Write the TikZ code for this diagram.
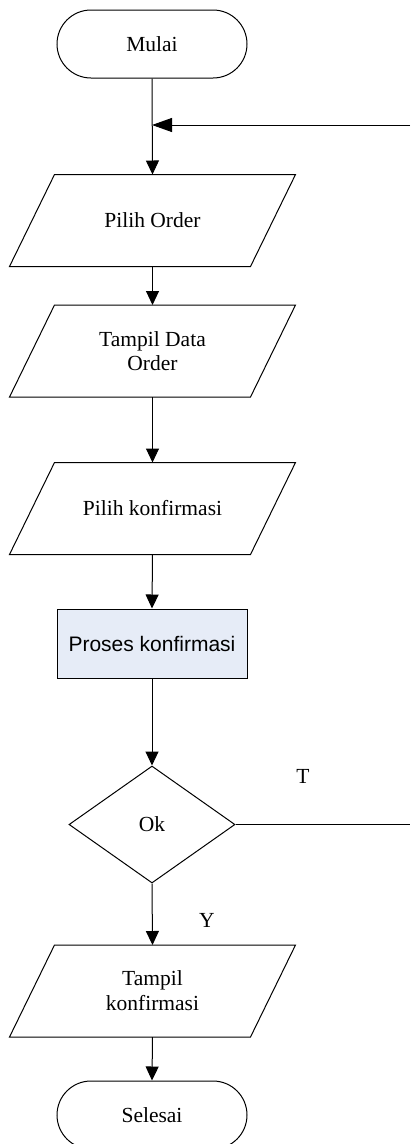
\documentclass[tikz,border=0pt]{standalone}
\usepackage{fontspec}
\setmainfont{Liberation Serif}
\newfontfamily\arialfont{Liberation Sans}
\usetikzlibrary{shapes.geometric,arrows.meta}
\definecolor{procfill}{RGB}{230,236,247}
\newcommand\myioshape[1]{%
  \draw ([xshift=-22.5pt]#1.south west) -- ([xshift=-22.5pt]#1.south east)
     -- ([xshift=22.5pt]#1.north east) -- ([xshift=22.5pt]#1.north west) -- cycle;}
\begin{document}
\begin{tikzpicture}[x=1pt,y=-1pt,
  line width=1pt,
  every node/.style={font=\fontsize{21.5}{23.5}\selectfont, align=center, inner sep=0pt},
  term/.style={draw, rectangle, rounded corners=34pt, minimum width=190pt, minimum height=68pt},
  io/.style={rectangle, minimum width=240pt, minimum height=91pt},
  proc/.style={draw, rectangle, fill=procfill, minimum width=190pt, minimum height=69pt,
    font=\arialfont\fontsize{21}{24}\selectfont},
  dec/.style={draw, diamond, minimum width=166pt, minimum height=117pt},
  arr/.style={-{Triangle[length=14pt,width=13pt]}},
  arrbig/.style={-{Triangle[length=20pt,width=14pt]}}
]
\useasboundingbox (0,0) rectangle (410,1144);

\node[term] (mulai) at (152,44) {Mulai};
\node[io] (po) at (152.5,220.5) {Pilih Order};
\node[io] (tdo) at (152.5,351) {Tampil Data\\Order};
\node[io] (pk) at (152.5,508.5) {Pilih konfirmasi};
\node[proc] (proses) at (152,643.5) {Proses konfirmasi};
\node[dec] (ok) at (152,824.5) {Ok};
\node[io,font=\fontsize{21.5}{25}\selectfont] (tk) at (152.5,991) {Tampil\\konfirmasi};
\node[term] (selesai) at (152,1115) {Selesai};

\myioshape{po}
\myioshape{tdo}
\myioshape{pk}
\myioshape{tk}

\node (t) at (303,776) {T};
\node (y) at (207,920) {Y};

\coordinate (join) at (152,125);
\coordinate (backin) at (410,125);
\coordinate (backout) at (410,824.5);

\draw[arr] (mulai.south) -- (po.north);
\draw[arrbig] (backin) -- (join);
\draw[arr] (po.south) -- (tdo.north);
\draw[arr] (tdo.south) -- (pk.north);
\draw[arr] (pk.south) -- (proses.north);
\draw[arr] (proses.south) -- (ok.north);
\draw (ok.east) -- (backout);
\draw[arr] (ok.south) -- (tk.north);
\draw[arr] (tk.south) -- (selesai.north);
\end{tikzpicture}
\end{document}
